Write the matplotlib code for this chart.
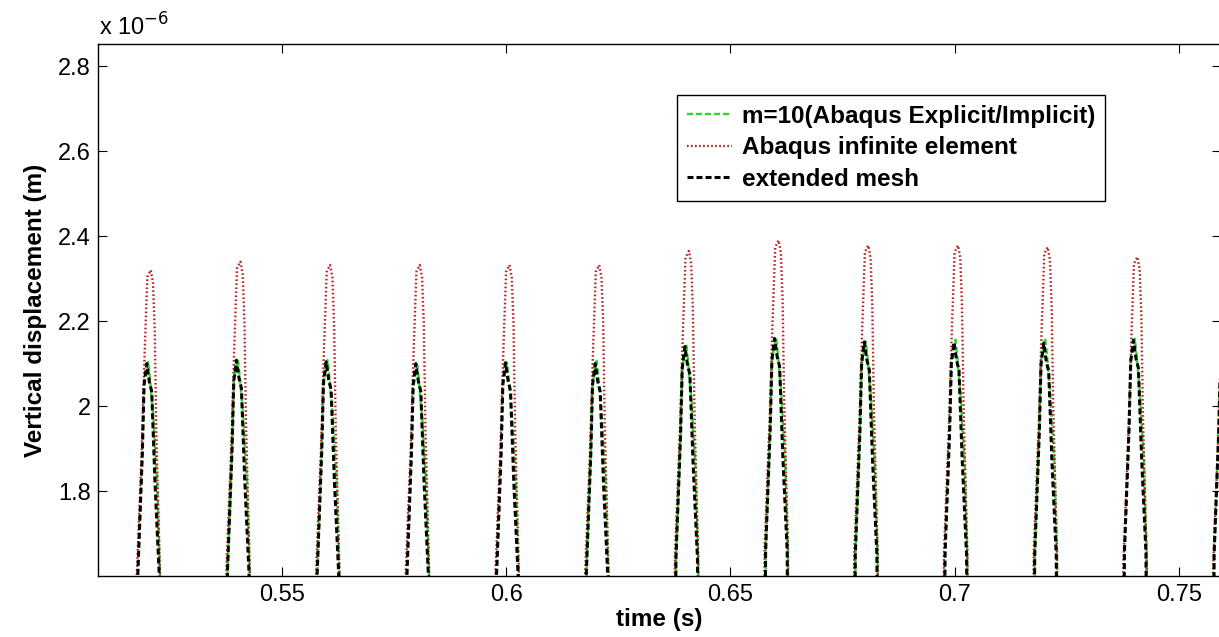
import numpy as np
import matplotlib
matplotlib.use('Agg')
from matplotlib import pyplot as plt

# Font giong MATLAB (Arial)
plt.rcParams['font.family'] = ['Liberation Sans', 'DejaVu Sans']
plt.rcParams['lines.scale_dashes'] = False

# Thoi diem cac xung (s)
pulse_t = [0.520, 0.540, 0.560, 0.580, 0.600, 0.620, 0.640,
           0.660, 0.680, 0.700, 0.720, 0.740, 0.760]

# Dinh cua tung xung (x 1e-6 m)
peak_green = [2.104, 2.110, 2.108, 2.095, 2.102, 2.106, 2.142,
              2.162, 2.152, 2.156, 2.160, 2.158, 2.150]
peak_red = [2.320, 2.340, 2.332, 2.332, 2.332, 2.332, 2.365,
            2.390, 2.378, 2.378, 2.374, 2.351, 2.340]
peak_black = [2.100, 2.108, 2.104, 2.100, 2.102, 2.100, 2.140,
              2.159, 2.151, 2.150, 2.148, 2.155, 2.150]

# Hinh dang mot xung doc tu anh: do lech thoi gian va do giam so voi dinh
dt_green = [-0.0022, -0.0021, -0.0011, -0.0007, 0.0002, 0.0006,
            0.00134, 0.0017, 0.0022, 0.00283, 0.0029]
drop_green = [0.65, 0.50, 0.21, 0.05, 0.0, 0.04, 0.13, 0.20, 0.28, 0.50, 0.65]

dt_red = [-0.00245, -0.00236, -0.00125, -0.00058, 0.0, 0.00076,
          0.00127, 0.00165, 0.0020, 0.00283, 0.0029]
drop_red = [0.85, 0.72, 0.424, 0.19, 0.016, 0.0, 0.03, 0.14, 0.38, 0.72, 0.85]

dt_black = [-0.00222, -0.00214, -0.00111, -0.00073, -0.00013, 0.00045,
            0.00098, 0.0012, 0.00171, 0.00267, 0.00275]
drop_black = [0.65, 0.50, 0.21, 0.05, 0.0, 0.043, 0.066, 0.13, 0.28, 0.50, 0.65]

x_ticks = [0.55, 0.6, 0.65, 0.7, 0.75]
x_labels = ['0.55', '0.6', '0.65', '0.7', '0.75']
y_ticks = [1.8, 2.0, 2.2, 2.4, 2.6, 2.8]
y_labels = ['1.8', '2', '2.2', '2.4', '2.6', '2.8']

# Ghep cac xung thanh mot duong
def build(dts, drops, peaks):
    t = np.concatenate([np.add(p, dts) for p in pulse_t])
    v = np.concatenate([pk - np.array(drops) for pk in peaks])
    return t, v

t_g, v_g = build(dt_green, drop_green, peak_green)
t_r, v_r = build(dt_red, drop_red, peak_red)
t_b, v_b = build(dt_black, drop_black, peak_black)

fig = plt.figure(figsize=(12.19, 6.37), dpi=100)
ax = fig.add_axes([98/1219, 61/637, 1123/1219, 532/637])

ax.plot(t_g, v_g, color='#22dd22', lw=1.7, dashes=(4.3, 2.2),
        label='m=10(Abaqus Explicit/Implicit)')
ax.plot(t_r, v_r, color='#c02020', lw=1.7, dashes=(1.2, 1.7),
        label='Abaqus infinite element')
ax.plot(t_b, v_b, color='black', lw=2.2, dashes=(4.3, 2.2),
        label='extended mesh')

ax.set_xlim(0.509, 0.7594)
ax.set_ylim(1.6, 2.852)
ax.set_xticks(x_ticks)
ax.set_xticklabels(x_labels)
ax.set_yticks(y_ticks)
ax.set_yticklabels(y_labels)
ax.tick_params(direction='in', length=6.5, width=0.8, labelsize=17,
               top=True, right=True, colors='black')
ax.tick_params(axis='x', pad=6)
ax.tick_params(axis='y', pad=5)
for s in ax.spines.values():
    s.set_linewidth(1.0)

ax.set_xlabel('time (s)', fontsize=17.5, fontweight='bold', labelpad=1)
ax.set_ylabel('Vertical displacement (m)', fontsize=17.5, fontweight='bold', labelpad=8)

fig.text(99/1219, 1 - 36/637, r'x 10$^{-6}$', fontsize=17, va='baseline', ha='left')

# Chu thich
leg = ax.legend(loc='upper right', bbox_to_anchor=(0.8967, 0.904), borderaxespad=0,
                prop={'weight': 'bold', 'size': 17.5}, fancybox=False, framealpha=1,
                edgecolor='black', handlelength=1.85, handletextpad=0.4,
                labelspacing=0.35, borderpad=0.4)
leg.get_frame().set_linewidth(1.0)

plt.savefig('out.png', dpi=100)
